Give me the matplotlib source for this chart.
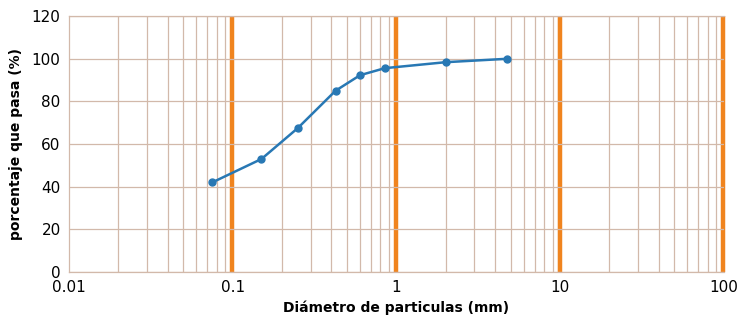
import numpy as np
import matplotlib
matplotlib.use("Agg")
import matplotlib.pyplot as plt
from matplotlib.ticker import FixedLocator, NullFormatter

diametro = [0.075, 0.15, 0.25, 0.425, 0.6, 0.85, 2.0, 4.75]
pasa = [42, 53, 67.5, 85, 92.3, 95.6, 98.4, 100]
x_ticks = [0.01, 0.1, 1, 10, 100]
x_labels = ["0.01", "0.1", "1", "10", "100"]
y_ticks = [0, 20, 40, 60, 80, 100, 120]

grid_color = "#d2b9aa"
decade_color = "#f0841e"
line_color = "#2878b4"

fig = plt.figure(figsize=(7.37, 3.23), dpi=100)
ax = fig.add_axes([0.0936, 0.158, 0.8884, 0.792])

ax.set_xscale("log")
ax.set_xlim(0.01, 100)
ax.set_ylim(0, 120)

# minor grid (2..9 in each decade) and horizontal lines
minors = [m * 10.0 ** e for e in range(-2, 2) for m in range(2, 10)]
ax.xaxis.set_minor_locator(FixedLocator(minors))
ax.xaxis.set_minor_formatter(NullFormatter())
ax.grid(True, which="minor", axis="x", color=grid_color, lw=0.9)
ax.grid(True, which="major", axis="y", color=grid_color, lw=0.9)

# thick decade lines
for d in x_ticks[1:]:
    ax.axvline(d * 0.975, color=grid_color, lw=0.9, zorder=1)
    ax.axvline(d * 0.995, color=decade_color, lw=3.2, zorder=1,
               clip_on=False, solid_capstyle="butt")

ax.plot(diametro, pasa, color=line_color, lw=1.8, marker="o", ms=5, zorder=3)

ax.set_xticks(x_ticks)
ax.set_xticklabels(x_labels)
ax.set_yticks(y_ticks)
ax.tick_params(axis="both", which="both", length=0, labelsize=11, pad=6)

for s in ax.spines.values():
    s.set_color(grid_color)
    s.set_linewidth(0.9)
ax.spines["right"].set_visible(False)

ax.set_xlabel("Diámetro de particulas (mm)", fontsize=10, fontweight="bold", labelpad=4)
ax.set_ylabel("porcentaje que pasa (%)", fontsize=10, fontweight="bold", labelpad=6)

fig.savefig("out.png", dpi=100)
